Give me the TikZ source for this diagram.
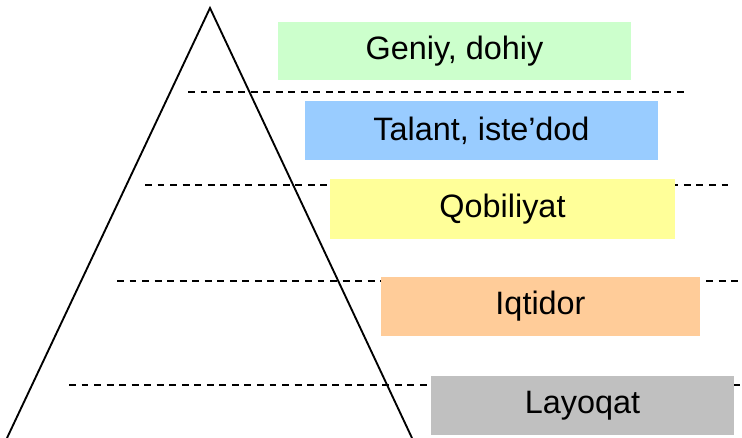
\documentclass[tikz,border=0pt]{standalone}
\usepackage{fontspec}
\setmainfont{Liberation Sans}
\usepackage{xcolor}
\usetikzlibrary{positioning}

\definecolor{geniyc}{HTML}{CCFFCC}
\definecolor{talantc}{HTML}{99CCFF}
\definecolor{qobilc}{HTML}{FFFF99}
\definecolor{iqtidc}{HTML}{FFCC99}
\definecolor{layoqc}{HTML}{C0C0C0}

\begin{document}
\begin{tikzpicture}[
    x=0.75pt, y=-0.75pt,
    font=\fontsize{24.3}{28}\selectfont,
    level/.style={draw=none, inner sep=0pt, align=center, minimum height=44pt},
    sep/.style={dashed, dash pattern=on 5.2pt off 4.2pt, line width=1.1pt},
    edge/.style={line width=1.4pt, line join=miter}
]
    \useasboundingbox (0,0) rectangle (742,438);
    % pyramid
    \draw[edge] (7,438) -- (210,8) -- (412,438);
    % separators
    \draw[sep] (188,92) -- (688,92);
    \draw[sep] (145,185) -- (728,185);
    \draw[sep] (117,281) -- (742,281);
    \draw[sep] (69,385) -- (742,385);
    % levels
    \node[level, fill=geniyc, minimum width=264.75pt] (geniy) at (454.5,51) {Geniy, dohiy};
    \node[level, fill=talantc, minimum width=264.75pt] (talant) at (481.5,130.5) {Talant, iste’dod};
    \node[level, fill=qobilc, minimum width=258.75pt, minimum height=45pt] (qobil) at (502.5,209) {Qobiliyat};
    \node[level, fill=iqtidc, minimum width=239.25pt] (iqtid) at (540.5,306.5) {Iqtidor};
    \node[level, fill=layoqc, minimum width=227.25pt] (layoq) at (582.5,405.5) {Layoqat};
\end{tikzpicture}
\end{document}
